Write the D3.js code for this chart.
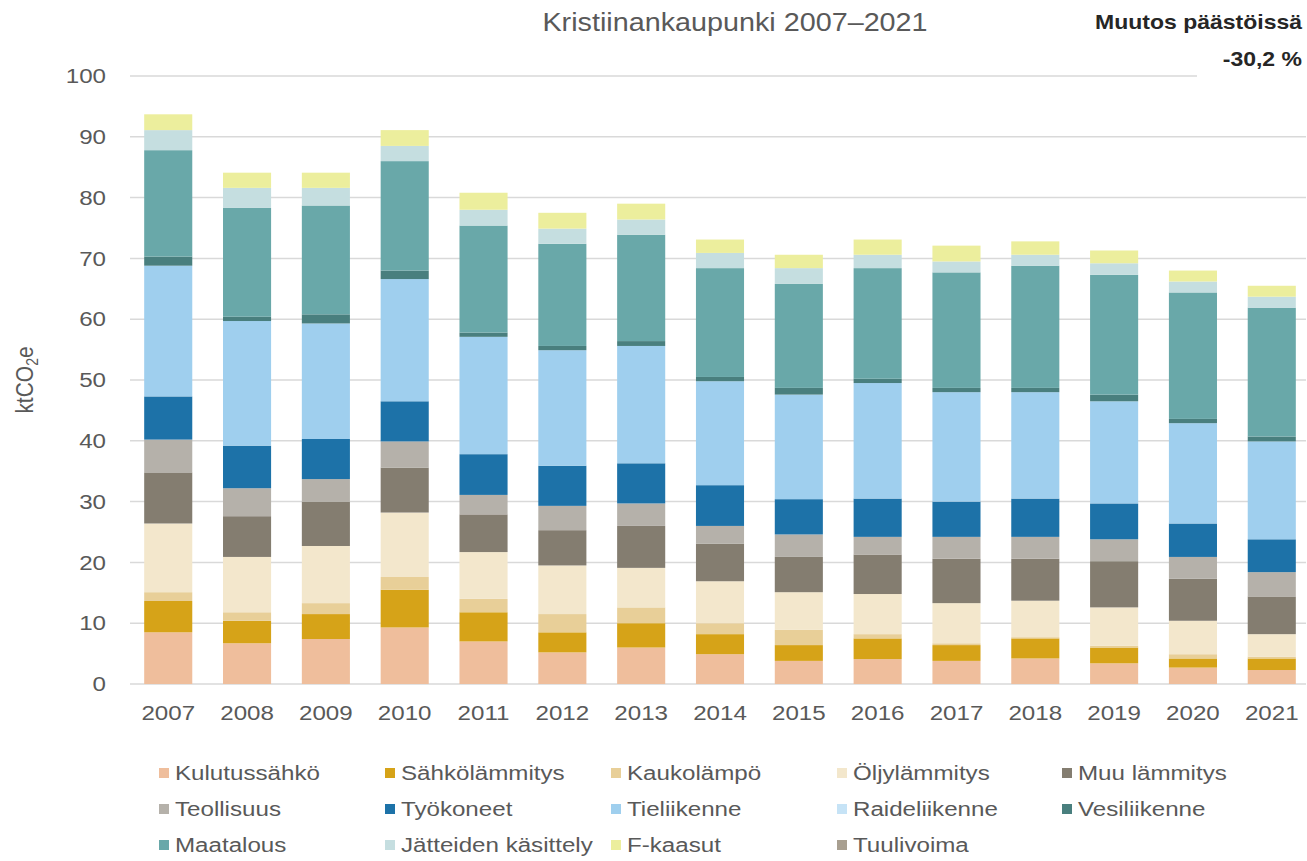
<!DOCTYPE html>
<meta charset="utf-8">
<title>Kristiinankaupunki 2007–2021</title>
<style>
    body {
        margin: 0;
        background: #fff;
    }

    text {
        font-family: "Liberation Sans", Arial, sans-serif;
        fill: #595959;
    }
</style>

<body>
    <div id="chart"></div>

    <script src="https://cdn.jsdelivr.net/npm/d3@7"></script>
    <script>
        // years on the x axis
        var years = ["2007", "2008", "2009", "2010", "2011", "2012", "2013", "2014",
            "2015", "2016", "2017", "2018", "2019", "2020", "2021"];

        // emissions per sector, ktCO2e
        var kulutussahko = [8.5, 6.7, 7.4, 9.3, 7.0, 5.2, 6.0, 4.9, 3.8, 4.1, 3.8, 4.2, 3.4, 2.7, 2.3];
        var sahkolammitys = [5.15, 3.7, 4.1, 6.2, 4.8, 3.3, 4.0, 3.3, 2.6, 3.4, 2.6, 3.3, 2.6, 1.5, 1.9];
        var kaukolampo = [1.45, 1.4, 1.8, 2.1, 2.2, 3.0, 2.6, 1.8, 2.5, 0.7, 0.3, 0.2, 0.3, 0.7, 0.3];
        var oljylammitys = [11.3, 9.1, 9.4, 10.6, 7.7, 8.0, 6.5, 6.9, 6.2, 6.6, 6.6, 6.0, 6.3, 5.5, 3.7];
        var muuLammitys = [8.4, 6.7, 7.3, 7.4, 6.2, 5.8, 6.9, 6.2, 5.8, 6.5, 7.3, 6.9, 7.6, 6.9, 6.2];
        var teollisuus = [5.4, 4.6, 3.7, 4.3, 3.2, 4.0, 3.7, 2.9, 3.7, 2.9, 3.6, 3.6, 3.6, 3.6, 4.0];
        var tyokoneet = [7.1, 7.0, 6.6, 6.6, 6.7, 6.6, 6.6, 6.7, 5.8, 6.3, 5.8, 6.3, 5.9, 5.5, 5.4];
        var tieliikenne = [21.5, 20.5, 19.0, 20.1, 19.3, 19.0, 19.3, 17.1, 17.2, 19.0, 18.0, 17.5, 16.8, 16.5, 16.1];
        var raideliikenne = [0, 0, 0, 0, 0, 0, 0, 0, 0, 0, 0, 0, 0, 0, 0];
        var vesiliikenne = [1.5, 0.7, 1.5, 1.4, 0.7, 0.7, 0.8, 0.7, 1.1, 0.7, 0.7, 0.7, 1.1, 0.7, 0.8];
        var maatalous = [17.5, 17.9, 17.9, 18.0, 17.6, 16.8, 17.5, 17.9, 17.1, 18.2, 19.0, 20.1, 19.7, 20.8, 21.2];
        var jatteet = [3.3, 3.3, 2.9, 2.5, 2.6, 2.5, 2.5, 2.5, 2.6, 2.2, 1.8, 1.8, 1.9, 1.8, 1.8];
        var fkaasut = [2.6, 2.5, 2.5, 2.6, 2.8, 2.6, 2.6, 2.2, 2.2, 2.5, 2.6, 2.2, 2.1, 1.8, 1.8];
        var tuulivoima = [0, 0, 0, 0, 0, 0, 0, 0, 0, 0, 0, 0, 0, 0, 0];

        var seriesNames = ["Kulutussähkö", "Sähkölämmitys", "Kaukolämpö", "Öljylämmitys", "Muu lämmitys",
            "Teollisuus", "Työkoneet", "Tieliikenne", "Raideliikenne", "Vesiliikenne",
            "Maatalous", "Jätteiden käsittely", "F-kaasut", "Tuulivoima"];
        var seriesValues = [kulutussahko, sahkolammitys, kaukolampo, oljylammitys, muuLammitys,
            teollisuus, tyokoneet, tieliikenne, raideliikenne, vesiliikenne,
            maatalous, jatteet, fkaasut, tuulivoima];
        var seriesColors = ["#efbe9c", "#d6a318", "#e8cf98", "#f3e7cc", "#847d70",
            "#b5b1aa", "#1d72a8", "#9fcfee", "#c6e3f6", "#497f7e",
            "#69a8a9", "#c5dee0", "#ecee9d", "#a89f90"];

        var yTicks = [0, 10, 20, 30, 40, 50, 60, 70, 80, 90, 100];

        var width = 1307,
            height = 861;
        // the original text is drawn a little wide
        var stretch = 1.15;

        var svg = d3.select("#chart")
            .append("svg")
            .attr("width", width)
            .attr("height", height);

        var x = d3.scaleBand()
            .domain(years)
            .range([130, 1310])
            .paddingInner(0.39)
            .paddingOuter(0.18);

        var y = d3.scaleLinear()
            .domain([0, 100])
            .range([684, 76]);

        var color = d3.scaleOrdinal()
            .domain(seriesNames)
            .range(seriesColors);

        // gridlines
        svg.append("g")
            .selectAll("line")
            .data(yTicks)
            .enter()
            .append("line")
            .attr("x1", 130)
            .attr("x2", 1306)
            .attr("y1", function(d) { return y(d); })
            .attr("y2", function(d) { return y(d); })
            .attr("stroke", "#d9d9d9")
            .attr("stroke-width", 1.5);

        // stack the data
        var rows = years.map(function(yr, i) {
            var r = { year: yr };
            seriesNames.forEach(function(name, k) {
                r[name] = seriesValues[k][i];
            });
            return r;
        });
        var stacked = d3.stack().keys(seriesNames)(rows);

        svg.append("g")
            .selectAll("g")
            .data(stacked)
            .enter()
            .append("g")
            .attr("fill", function(d) { return color(d.key); })
            .selectAll("rect")
            .data(function(d) { return d; })
            .enter()
            .append("rect")
            .attr("x", function(d) { return x(d.data.year); })
            .attr("width", x.bandwidth())
            .attr("y", function(d) { return y(d[1]); })
            .attr("height", function(d) { return y(d[0]) - y(d[1]); });

        // y axis labels
        var yAxis = svg.append("g")
            .attr("transform", "translate(106,0)")
            .call(d3.axisLeft(y).tickValues(yTicks).tickSize(0).tickPadding(0));
        yAxis.select(".domain").remove();
        yAxis.selectAll("text")
            .attr("font-size", 21)
            .attr("fill", "#595959")
            .attr("font-family", "Liberation Sans, Arial, sans-serif")
            .attr("transform", "scale(" + stretch + ",1)");

        // x axis labels
        var xAxis = svg.append("g")
            .attr("transform", "translate(0,684)")
            .call(d3.axisBottom(x).tickSize(0));
        xAxis.select(".domain").remove();
        xAxis.selectAll("text")
            .attr("y", 36)
            .attr("dy", 0)
            .attr("font-size", 21)
            .attr("fill", "#595959")
            .attr("font-family", "Liberation Sans, Arial, sans-serif")
            .attr("transform", "scale(" + stretch + ",1)");

        // y axis title
        var yTitle = svg.append("text")
            .attr("transform", "translate(33,380) scale(" + stretch + ",1) rotate(-90)")
            .attr("text-anchor", "middle")
            .attr("font-size", 21);
        yTitle.append("tspan").text("ktCO");
        yTitle.append("tspan").attr("font-size", 14).attr("dy", 4).text("2");
        yTitle.append("tspan").attr("dy", -4).text("e");

        // chart title
        svg.append("text")
            .attr("transform", "translate(735,31) scale(" + stretch + ",1)")
            .attr("text-anchor", "middle")
            .attr("font-size", 25)
            .text("Kristiinankaupunki 2007–2021");

        // change text box
        svg.append("rect")
            .attr("x", 1197)
            .attr("y", 0)
            .attr("width", 110)
            .attr("height", 85)
            .attr("fill", "#fff");
        svg.append("text")
            .attr("transform", "translate(1302,29) scale(" + stretch + ",1)")
            .attr("text-anchor", "end")
            .attr("font-size", 20)
            .attr("font-weight", "bold")
            .style("fill", "#262626")
            .text("Muutos päästöissä");
        svg.append("text")
            .attr("transform", "translate(1302,66) scale(" + stretch + ",1)")
            .attr("text-anchor", "end")
            .attr("font-size", 20)
            .attr("font-weight", "bold")
            .style("fill", "#262626")
            .text("-30,2 %");

        // legend, 5 columns
        var legendCols = [159, 385, 611, 837, 1062];
        var legendRows = [773, 809, 845];

        var legend = svg.append("g")
            .selectAll("g")
            .data(seriesNames)
            .enter()
            .append("g")
            .attr("transform", function(d, i) {
                return "translate(" + legendCols[i % 5] + "," + legendRows[Math.floor(i / 5)] + ")";
            });

        legend.append("rect")
            .attr("x", 0)
            .attr("y", -5)
            .attr("width", 10)
            .attr("height", 10)
            .attr("fill", function(d) { return color(d); });

        legend.append("text")
            .attr("transform", "translate(16,7) scale(" + stretch + ",1)")
            .attr("font-size", 21)
            .text(function(d) { return d; });
    </script>
</body>
